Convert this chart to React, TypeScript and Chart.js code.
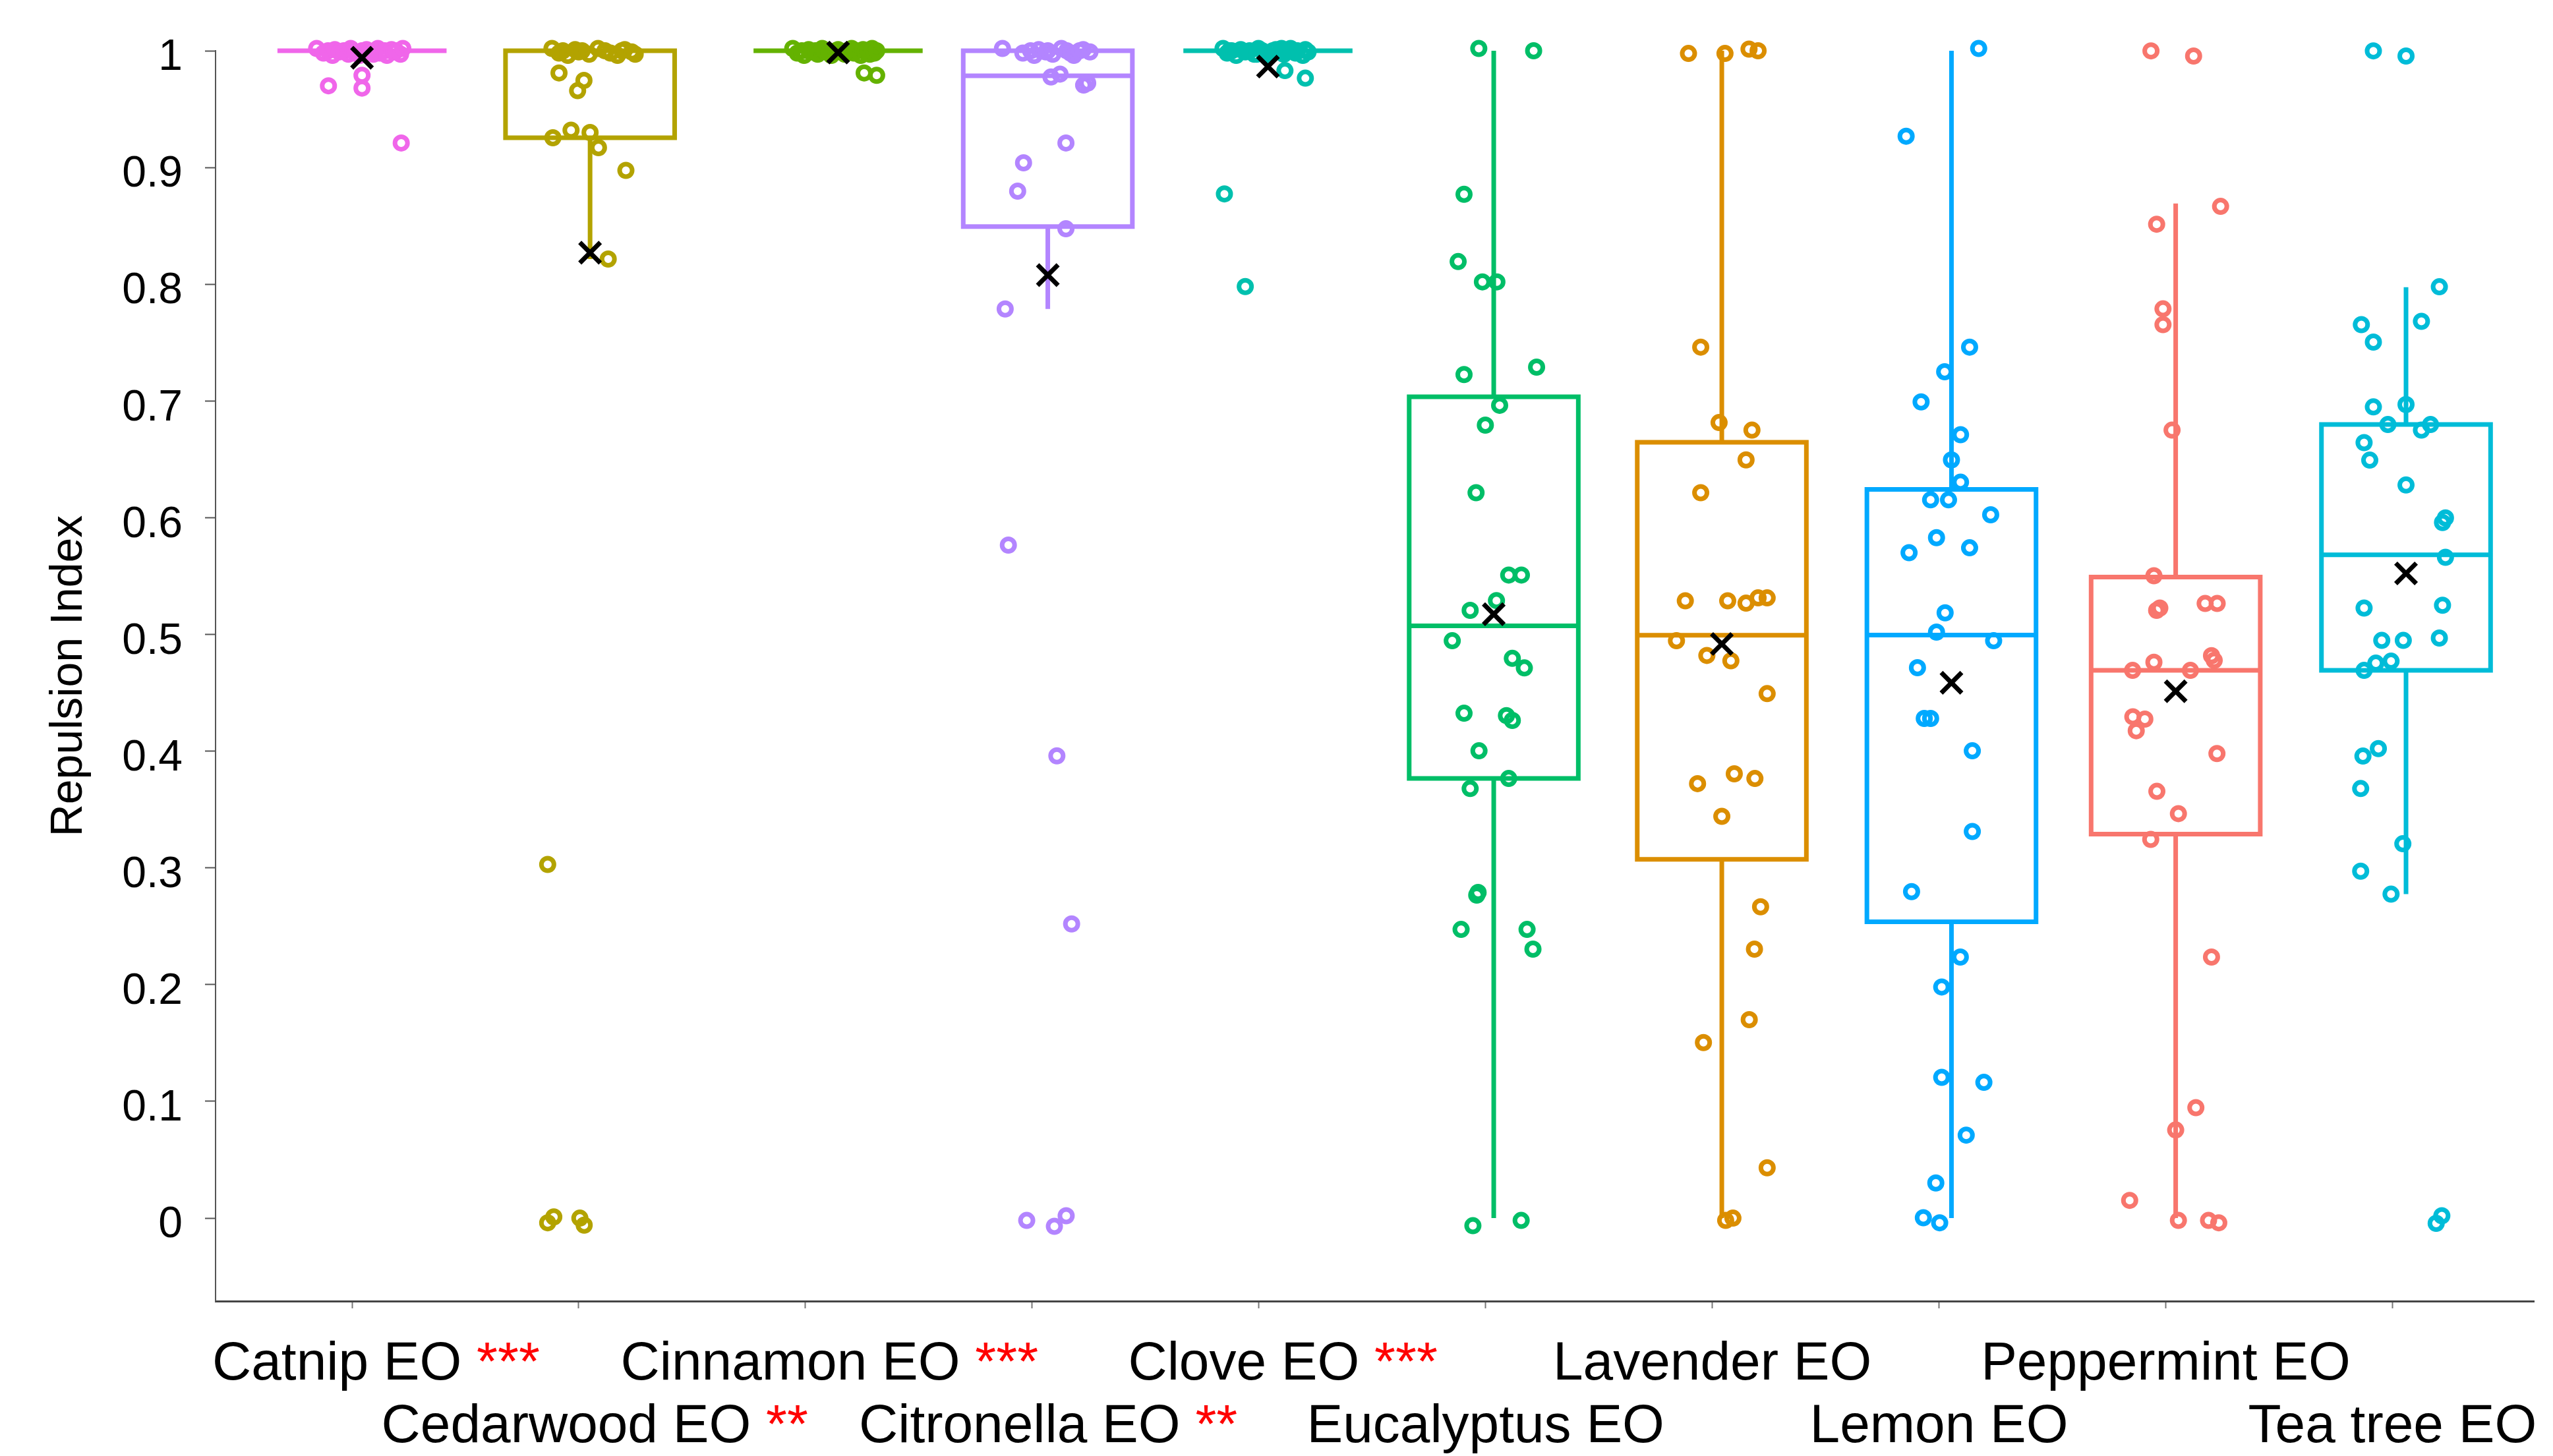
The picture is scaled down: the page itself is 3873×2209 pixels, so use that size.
import React, { useEffect, useRef } from 'react';
import { Chart, registerables } from 'chart.js';

Chart.register(...registerables);

const FONT = "'Liberation Sans', Arial, sans-serif";

const CATEGORIES = ['Catnip EO', 'Cedarwood EO', 'Cinnamon EO', 'Citronella EO', 'Clove EO', 'Eucalyptus EO', 'Lavender EO', 'Lemon EO', 'Peppermint EO', 'Tea tree EO'];
const STARS = ['***', '**', '***', '**', '***', '', '', '', '', ''];
const COLORS = ['#F066EA', '#B3A300', '#64B200', '#B385FF', '#00C0AE', '#00BE67', '#DB8E00', '#00A9FF', '#F8766D', '#00BCD8'];

// box centre (category index + small offset seen in the picture)
const BOX_X = [0.044, 1.05, 2.144, 3.069, 4.04, 5.036, 6.042, 7.055, 8.044, 9.06];
const Q1 = [1, 0.9255, 1, 0.8494, 1, 0.3766, 0.3074, 0.2538, 0.329, 0.4692];
const MEDIAN = [1, 1, 1, 0.9785, 1, 0.5073, 0.4993, 0.4994, 0.4692, 0.5682];
const Q3 = [1, 1, 1, 1, 1, 0.7036, 0.6646, 0.6243, 0.5491, 0.6798];
const WHISKER_LOW = [1, 0.8216, 1, 0.7788, 1, 0, 0, 0, 0, 0.2775];
const WHISKER_HIGH = [1, 1, 1, 1, 1, 1, 1, 1, 0.8692, 0.7975];
const MEANS = [0.994, 0.827, 0.9985, 0.8078, 0.9864, 0.5173, 0.4918, 0.4586, 0.4513, 0.5523];

const Y_TICKS = [0, 0.1, 0.2, 0.3, 0.4, 0.5, 0.6, 0.7, 0.8, 0.9, 1];

const POINT_VALUES: number[][] = [
  [1.002, 0.998, 1, 0.996, 1.001, 0.999, 1, 0.997, 1.002, 1, 0.998, 0.996, 1, 1.001, 0.999, 0.997, 1, 1.002, 0.998, 1, 0.996, 1.001, 0.999, 1, 0.997, 1.002, 0.97, 0.979, 0.968, 0.921],
  [1.002, 0.998, 1, 0.996, 1.001, 0.999, 1, 0.997, 1.002, 1, 0.998, 0.996, 1, 1.001, 0.999, 0.997, 0.981, 0.9746, 0.9658, 0.9255, 0.932, 0.93, 0.917, 0.8975, 0.8216, 0.303, -0.004, 0.001, 0.0, -0.006],
  [1.002, 0.998, 1, 0.996, 1.001, 0.999, 1, 0.997, 1.002, 1, 0.998, 0.996, 1, 1.001, 0.999, 0.997, 1, 1.002, 0.998, 1, 0.996, 1.001, 0.999, 1, 0.997, 1.002, 0.998, 1, 0.981, 0.979],
  [1.002, 0.998, 1, 0.996, 1.001, 0.999, 1, 0.997, 1.002, 1, 0.998, 0.996, 1, 1.001, 0.999, 0.9775, 0.98, 0.9706, 0.9723, 0.921, 0.904, 0.8797, 0.8475, 0.7788, 0.5765, 0.396, 0.252, -0.002, -0.007, 0.002],
  [1.002, 0.998, 1, 0.996, 1.001, 0.999, 1, 0.997, 1.002, 1, 0.998, 0.996, 1, 1.001, 0.999, 0.997, 1, 1.002, 0.998, 1, 0.996, 1.001, 0.999, 1, 0.997, 1.002, 0.983, 0.9765, 0.8774, 0.798],
  [1.002, 1.0, 0.877, 0.8194, 0.802, 0.802, 0.7226, 0.729, 0.6963, 0.6793, 0.6214, 0.5509, 0.5509, 0.5206, 0.529, 0.4946, 0.4795, 0.4713, 0.4325, 0.4305, 0.4263, 0.4003, 0.3766, 0.368, 0.2767, 0.279, 0.2473, 0.2473, 0.2304, -0.0065, -0.002],
  [0.9977, 0.9977, 1.0014, 1.0, 0.7461, 0.6815, 0.675, 0.6495, 0.6214, 0.5288, 0.5288, 0.5268, 0.5313, 0.5313, 0.4946, 0.482, 0.4774, 0.4493, 0.3722, 0.3806, 0.3766, 0.3442, 0.2667, 0.2304, 0.17, 0.1504, 0.0431, -0.002, 0],
  [1.002, 0.9268, 0.7461, 0.725, 0.6992, 0.6711, 0.6495, 0.6304, 0.6153, 0.6153, 0.6025, 0.5829, 0.5742, 0.57, 0.5185, 0.502, 0.4946, 0.4715, 0.428, 0.428, 0.4003, 0.3312, 0.2797, 0.2236, 0.198, 0.1206, 0.1163, 0.0711, 0.0301, 0.0003, -0.004],
  [0.9999, 0.9955, 0.8667, 0.8514, 0.7789, 0.7654, 0.675, 0.5503, 0.5226, 0.5206, 0.5265, 0.5265, 0.4762, 0.4818, 0.4778, 0.4692, 0.4692, 0.4295, 0.4275, 0.4175, 0.398, 0.3656, 0.3465, 0.3244, 0.2236, 0.0946, 0.0755, 0.0152, -0.002, -0.002, -0.004],
  [0.9999, 0.9955, 0.7978, 0.7654, 0.7682, 0.7504, 0.6949, 0.6969, 0.6798, 0.6798, 0.675, 0.6643, 0.6493, 0.628, 0.5998, 0.5959, 0.5661, 0.5226, 0.525, 0.4949, 0.4949, 0.4969, 0.4771, 0.4754, 0.4692, 0.4022, 0.3958, 0.368, 0.3207, 0.2972, 0.2775, 0.002, -0.0045],
];

// horizontal jitter of each point relative to its box centre (category units)
const POINT_JITTER: number[][] = [
  [-0.2, -0.17, -0.15, -0.13, -0.12, -0.1, -0.08, -0.06, -0.05, -0.04, -0.03, -0.01, 0, 0.02, 0.03, 0.05, 0.06, 0.07, 0.08, 0.1, 0.11, 0.13, 0.14, 0.15, 0.17, 0.18, -0.148, 0, 0, 0.173],
  [-0.168, -0.137, -0.12, -0.098, -0.066, -0.05, -0.035, -0.004, 0.035, 0.066, 0.09, 0.121, 0.14, 0.153, 0.184, 0.199, -0.137, -0.027, -0.055, -0.164, -0.084, 0.0, 0.037, 0.158, 0.08, -0.187, -0.187, -0.16, -0.045, -0.026],
  [-0.2, -0.18, -0.16, -0.15, -0.13, -0.12, -0.1, -0.09, -0.07, -0.06, -0.04, -0.03, -0.01, 0, 0.01, 0.03, 0.04, 0.06, 0.07, 0.08, 0.1, 0.11, 0.12, 0.13, 0.14, 0.15, 0.16, 0.17, 0.115, 0.17],
  [-0.2, -0.11, -0.076, -0.06, -0.04, -0.009, 0, 0.022, 0.06, 0.084, 0.1, 0.115, 0.14, 0.156, 0.186, 0.014, 0.054, 0.158, 0.176, 0.08, -0.107, -0.133, 0.08, -0.188, -0.174, 0.04, 0.105, -0.093, 0.029, 0.081],
  [-0.198, -0.18, -0.16, -0.14, -0.12, -0.1, -0.081, -0.06, -0.042, -0.025, -0.01, 0.005, 0.021, 0.035, 0.052, 0.07, 0.09, 0.1, 0.122, 0.13, 0.154, 0.165, 0.177, -0.17, -0.05, 0.06, 0.075, 0.165, -0.192, -0.1],
  [-0.066, 0.176, -0.131, -0.157, -0.05, 0.014, -0.131, 0.189, 0.026, -0.037, -0.078, 0.066, 0.122, -0.104, 0.012, -0.183, 0.082, 0.135, -0.131, 0.056, 0.082, -0.065, 0.066, -0.104, -0.075, -0.069, -0.144, 0.147, 0.173, -0.092, 0.121],
  [-0.147, 0.014, 0.12, 0.16, -0.093, -0.012, 0.133, 0.107, -0.093, -0.161, 0.026, 0.107, 0.16, 0.2, -0.2, -0.066, 0.04, 0.2, -0.107, 0.055, 0.146, 0, 0.171, 0.144, 0.121, -0.081, 0.2, 0.017, 0.049],
  [0.12, -0.2, 0.08, -0.03, -0.134, 0.04, 0, 0.04, -0.092, -0.013, 0.173, -0.066, 0.08, -0.187, -0.028, -0.066, 0.186, -0.15, -0.12, -0.092, 0.092, 0.092, -0.176, 0.039, -0.043, -0.043, 0.143, 0.065, -0.069, -0.124, -0.052],
  [-0.109, 0.079, 0.198, -0.084, -0.056, -0.056, -0.016, -0.096, -0.07, -0.084, 0.13, 0.183, -0.096, 0.158, 0.17, -0.19, 0.065, -0.189, -0.136, -0.174, 0.182, -0.083, 0.012, -0.11, 0.158, 0.089, 0, -0.203, 0.012, 0.145, 0.19],
  [-0.144, 0, 0.147, -0.197, 0.068, -0.144, -0.144, 0, -0.08, 0.108, 0.068, -0.185, -0.16, 0, 0.174, 0.161, 0.174, -0.185, 0.161, -0.107, -0.012, 0.147, -0.066, -0.133, -0.185, -0.122, -0.19, -0.2, -0.014, -0.2, -0.066, 0.158, 0.133],
];

const BOX_HALF = 0.373;

function boxPath(i: number) {
  const c = BOX_X[i];
  const l = c - BOX_HALF;
  const r = c + BOX_HALF;
  const gap = { x: c, y: null as any };
  return [
    { x: l, y: Q3[i] }, { x: r, y: Q3[i] }, { x: r, y: Q1[i] }, { x: l, y: Q1[i] }, { x: l, y: Q3[i] }, { x: r, y: Q3[i] }, gap,
    { x: l, y: MEDIAN[i] }, { x: r, y: MEDIAN[i] }, { x: l, y: MEDIAN[i] }, gap,
    { x: c, y: Q3[i] }, { x: c, y: WHISKER_HIGH[i] }, gap,
    { x: c, y: Q1[i] }, { x: c, y: WHISKER_LOW[i] },
  ];
}

const xLabelsPlugin = {
  id: 'xLabels',
  afterDraw(chart: any) {
    const ctx = chart.ctx;
    const xs = chart.scales.x;
    const base = chart.chartArea.bottom;
    ctx.save();
    ctx.font = `82px ${FONT}`;
    ctx.textBaseline = 'alphabetic';
    ctx.textAlign = 'left';
    CATEGORIES.forEach((name, i) => {
      const px = xs.getPixelForValue(i);
      const y = base + (i % 2 === 0 ? 119 : 214);
      const stars = STARS[i];
      const head = stars ? name + ' ' : name;
      const wHead = ctx.measureText(head).width;
      const wStars = stars ? ctx.measureText(stars).width : 0;
      const x0 = px - (wHead + wStars) / 2 + wStars * 0.38;
      ctx.fillStyle = '#000000';
      ctx.fillText(head, x0, y);
      if (stars) {
        ctx.fillStyle = '#FF0000';
        ctx.fillText(stars, x0 + wHead, y);
      }
    });
    ctx.restore();
  },
};

export default function App() {
  const ref = useRef<HTMLCanvasElement | null>(null);

  useEffect(() => {
    if (!ref.current) return;
    Chart.defaults.font.family = FONT;

    const boxSets = CATEGORIES.map((_, i) => ({
      type: 'line' as const,
      data: boxPath(i),
      borderColor: COLORS[i],
      borderWidth: 7,
      pointRadius: 0,
      fill: false,
      tension: 0,
      spanGaps: false,
      clip: false as any,
      borderJoinStyle: 'miter' as const,
      borderCapStyle: 'butt' as const,
      order: 3,
    }));

    const pointSets = CATEGORIES.map((_, i) => ({
      type: 'scatter' as const,
      data: POINT_VALUES[i].map((v, k) => ({ x: BOX_X[i] + POINT_JITTER[i][k], y: v })),
      pointStyle: 'circle' as const,
      pointRadius: 9.5,
      pointBorderWidth: 7,
      pointBorderColor: COLORS[i],
      pointBackgroundColor: 'rgba(0,0,0,0)',
      showLine: false,
      clip: false as any,
      order: 2,
    }));

    const meanSet = {
      type: 'scatter' as const,
      data: MEANS.map((m, i) => ({ x: BOX_X[i], y: m })),
      pointStyle: 'crossRot' as const,
      pointRadius: 22,
      pointBorderWidth: 7,
      pointBorderColor: '#000000',
      pointBackgroundColor: '#000000',
      showLine: false,
      clip: false as any,
      order: 1,
    };

    const chart = new Chart(ref.current, {
      type: 'scatter',
      data: { datasets: [...boxSets, ...pointSets, meanSet] as any },
      options: {
        animation: false,
        responsive: false,
        devicePixelRatio: 1,
        events: [],
        layout: { padding: { top: 77, left: 0, right: 0, bottom: 0 } },
        plugins: { legend: { display: false }, tooltip: { enabled: false } },
        scales: {
          x: {
            type: 'linear',
            min: -0.602,
            max: 9.624,
            afterBuildTicks: (s: any) => { s.ticks = CATEGORIES.map((_, i) => ({ value: i })); },
            afterFit: (s: any) => { s.height = 235; },
            ticks: { display: false },
            grid: { drawOnChartArea: false, drawTicks: true, tickLength: 11, tickColor: '#777777', tickWidth: 2 },
            border: { display: true, color: '#444444', width: 3 },
          },
          y: {
            type: 'linear',
            min: -0.0711,
            max: 1,
            afterBuildTicks: (s: any) => { s.ticks = Y_TICKS.map((v) => ({ value: v })); },
            afterFit: (s: any) => { s.width = 327; },
            ticks: {
              color: '#000000',
              font: { size: 66, family: FONT },
              padding: 34,
              labelOffset: 11,
              callback: (v: any) => String(Math.round(Number(v) * 10) / 10),
            },
            grid: { drawOnChartArea: false, drawTicks: true, tickLength: 16, tickColor: '#555555', tickWidth: 2 },
            border: { display: true, color: '#555555', width: 2 },
            title: {
              display: true,
              text: 'Repulsion Index',
              color: '#000000',
              font: { size: 68, family: FONT },
              padding: { top: 64, bottom: 0 },
            },
          },
        },
      },
      plugins: [xLabelsPlugin],
    });

    return () => chart.destroy();
  }, []);

  return (
    <div style={{ position: 'fixed', left: 0, top: 0, width: 3873, height: 2209, background: '#ffffff' }}>
      <canvas ref={ref} width={3873} height={2209} style={{ display: 'block' }} />
    </div>
  );
}
